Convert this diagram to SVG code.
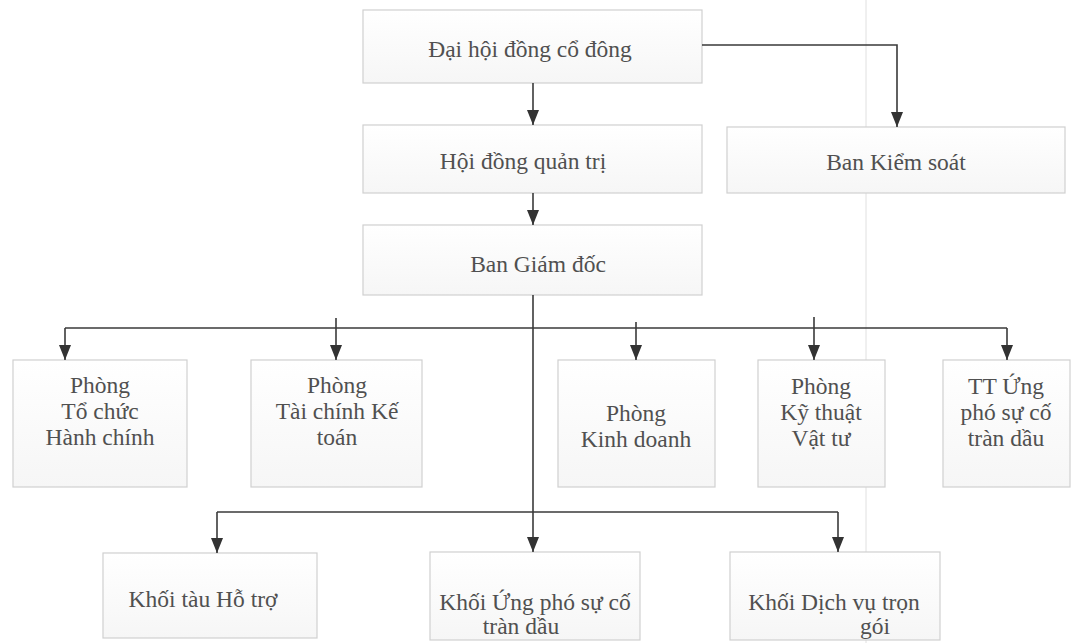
<svg xmlns="http://www.w3.org/2000/svg" width="1071" height="643" viewBox="0 0 1071 643">
  <style>
    .box { fill: url(#boxfill); stroke: #d0d0d0; stroke-width: 1.2; }
    .lbl { font-family: "Liberation Serif", "Times New Roman", serif; font-size: 23.5px; fill: #505050; text-anchor: middle; }
    .conn { fill: none; stroke: #3a3a3a; stroke-width: 1.6; }
    .arr { marker-end: url(#ah); }
  </style>
  <defs>
    <linearGradient id="boxfill" x1="0" y1="0" x2="0" y2="1">
      <stop offset="0" stop-color="#ffffff"/>
      <stop offset="1" stop-color="#f6f6f6"/>
    </linearGradient>
    <marker id="ah" markerUnits="userSpaceOnUse" markerWidth="15" markerHeight="15" viewBox="0 0 15 15" refX="15" refY="7.5" orient="auto">
      <path d="M0,1.5 L15,7.5 L0,13.5 Z" fill="#333333"/>
    </marker>
  </defs>
  <rect x="0" y="0" width="1071" height="643" fill="#ffffff"/>
  <line x1="866" y1="0" x2="866" y2="643" stroke="#e0e0e0" stroke-width="1"/>

  <g id="n-daihoi">
    <rect class="box" x="363" y="10" width="339" height="73"/>
    <text class="lbl" x="530" y="57">Đại hội đồng cổ đông</text>
  </g>
  <g id="n-hdqt">
    <rect class="box" x="363" y="125" width="339" height="68"/>
    <text class="lbl" x="523" y="169">Hội đồng quản trị</text>
  </g>
  <g id="n-bks">
    <rect class="box" x="727" y="127" width="338" height="66"/>
    <text class="lbl" x="896" y="170">Ban Kiểm soát</text>
  </g>
  <g id="n-bgd">
    <rect class="box" x="363" y="225" width="339" height="70"/>
    <text class="lbl" x="538" y="272">Ban Giám đốc</text>
  </g>
  <g id="n-tchc">
    <rect class="box" x="13" y="360" width="174" height="127"/>
    <text class="lbl" x="100" y="393">Phòng</text>
    <text class="lbl" x="100" y="419">Tổ chức</text>
    <text class="lbl" x="100" y="445">Hành chính</text>
  </g>
  <g id="n-tckt">
    <rect class="box" x="251" y="360" width="171" height="127"/>
    <text class="lbl" x="337" y="393">Phòng</text>
    <text class="lbl" x="337" y="419">Tài chính Kế</text>
    <text class="lbl" x="337" y="445">toán</text>
  </g>
  <g id="n-kd">
    <rect class="box" x="558" y="360" width="157" height="127"/>
    <text class="lbl" x="636" y="421">Phòng</text>
    <text class="lbl" x="636" y="447">Kinh doanh</text>
  </g>
  <g id="n-ktvt">
    <rect class="box" x="758" y="360" width="127" height="127"/>
    <text class="lbl" x="821" y="394">Phòng</text>
    <text class="lbl" x="821" y="420">Kỹ thuật</text>
    <text class="lbl" x="821" y="446">Vật tư</text>
  </g>
  <g id="n-tt">
    <rect class="box" x="943" y="360" width="127" height="127"/>
    <text class="lbl" x="1006" y="394">TT Ứng</text>
    <text class="lbl" x="1006" y="420">phó sự cố</text>
    <text class="lbl" x="1006" y="446">tràn dầu</text>
  </g>
  <g id="n-ktht">
    <rect class="box" x="103" y="553" width="214" height="85"/>
    <text class="lbl" x="203" y="607">Khối tàu Hỗ trợ</text>
  </g>
  <g id="n-kup">
    <rect class="box" x="430" y="552" width="210" height="88"/>
    <text class="lbl" x="535" y="610">Khối Ứng phó sự cố</text>
    <text class="lbl" x="521" y="634">tràn dầu</text>
  </g>
  <g id="n-kdv">
    <rect class="box" x="730" y="552" width="210" height="88"/>
    <text class="lbl" x="834" y="610">Khối Dịch vụ trọn</text>
    <text class="lbl" x="875" y="634">gói</text>
  </g>

  <g id="connectors">
    <path class="conn arr" d="M533,83 L533,125"/>
    <path class="conn arr" d="M702,45 L897,45 L897,127"/>
    <path class="conn arr" d="M533,193 L533,225"/>
    <path class="conn arr" d="M533,295 L533,552"/>
    <path class="conn" d="M65,328 L1007,328"/>
    <path class="conn arr" d="M65,328 L65,360"/>
    <path class="conn arr" d="M336,318 L336,360"/>
    <path class="conn arr" d="M636,322 L636,360"/>
    <path class="conn arr" d="M814,317 L814,360"/>
    <path class="conn arr" d="M1007,328 L1007,360"/>
    <path class="conn" d="M217,512 L838,512"/>
    <path class="conn arr" d="M217,512 L217,553"/>
    <path class="conn arr" d="M838,512 L838,552"/>
  </g>
</svg>
